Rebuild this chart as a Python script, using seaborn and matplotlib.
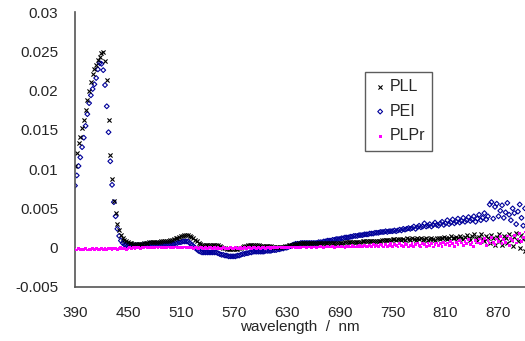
import numpy as np
import pandas as pd
import matplotlib
matplotlib.use("Agg")
import matplotlib.pyplot as plt
import seaborn as sns

# wavelength grid (nm), 2 nm steps
wavelength = list(range(390, 901, 2))

# values in units of 1e-4
PLL = [104,120,133,141,152,162,175,188,200,211,
       221,227,233,239,243,248,249,238,214,163,
       118,88,60,44,30,22,16,12,10,8,
       7,6,6,5,5,5,5,5,5,6,
       6,6,7,7,7,7,7,7,7,8,
       8,8,9,9,10,10,11,12,13,14,
       15,15,16,16,16,15,14,12,10,8,
       6,5,4,3,3,3,4,4,4,4,
       4,3,2,1,0,0,-1,-1,-1,-1,
       -1,-1,-1,0,0,1,2,2,3,3,
       3,3,3,3,3,2,2,2,2,2,
       2,2,1,1,1,1,1,1,1,2,
       2,3,3,4,5,5,5,6,6,6,
       6,6,6,6,6,6,6,6,6,6,
       6,6,6,6,6,6,6,6,6,6,
       6,6,6,7,7,7,7,7,7,7,
       7,7,7,8,8,8,8,8,8,9,
       9,9,9,9,10,10,10,10,10,10,
       11,11,10,11,11,10,11,10,12,11,
       10,12,11,10,12,11,13,10,11,12,
       10,11,13,11,10,12,13,11,12,14,
       12,11,13,15,12,13,14,12,15,13,
       11,14,16,12,10,15,17,12,9,14,
       18,11,8,15,13,6,16,12,4,14,
       17,9,3,15,12,6,18,10,2,14,
       19,8,0,16,11,-4]

PEI = [79,92,104,115,128,140,155,170,184,194,
       202,208,216,227,235,234,226,207,180,147,
       110,80,58,40,24,15,9,6,4,3,
       3,3,3,3,3,3,3,3,3,4,
       4,4,5,5,5,5,5,5,5,5,
       5,5,5,5,5,5,5,6,6,7,
       7,8,8,8,8,6,4,2,0,-2,
       -4,-5,-6,-6,-6,-6,-6,-6,-6,-6,
       -6,-7,-8,-9,-9,-10,-10,-11,-11,-11,
       -11,-11,-10,-10,-9,-8,-8,-7,-7,-6,
       -6,-5,-5,-5,-5,-5,-5,-5,-4,-4,
       -4,-4,-3,-3,-3,-2,-2,-1,-1,0,
       0,1,2,3,4,5,5,5,6,6,
       6,6,6,6,6,6,6,6,7,7,
       7,8,8,9,9,9,10,10,11,11,
       11,12,12,13,13,13,14,14,15,15,
       15,16,16,16,17,17,17,18,18,18,
       19,19,19,20,20,20,21,20,21,21,
       21,22,21,22,23,22,24,23,24,25,
       24,25,27,24,26,28,26,27,31,27,
       28,30,27,29,32,29,28,31,33,29,
       31,35,30,32,36,31,33,37,32,34,
       38,33,35,39,34,36,40,33,37,42,
       35,38,44,36,40,55,58,37,52,56,
       40,47,54,38,45,57,42,35,50,44,
       30,46,55,38,28,50]

PLPr = [-2,-3,-1,-2,-3,-2,-1,-3,-2,-2,
        -1,-2,-1,-3,-2,-1,-2,-1,-2,-1,
        -1,-2,-1,-1,-2,-1,0,-1,-1,-2,
        -1,0,-1,0,-1,0,0,-1,0,0,1,0,0,1,0,0,1,0,1,0,0,1,0,1,0,
        1,0,1,0,0,1,0,1,0,0,0,0,-1,0,0,-1,0,0,-1,0,-1,0,0,-1,0,
        -1,0,-1,-1,0,-1,-1,-1,0,-1,-1,0,-1,-1,0,-1,0,-1,0,0,-1,0,0,-1,0,
        -1,0,0,-1,0,0,-1,0,0,0,0,1,0,0,1,0,0,1,0,1,0,0,1,0,1,
        1,0,1,1,0,1,1,0,1,2,1,0,1,2,1,1,2,0,1,2,1,2,1,0,2,
        2,1,3,2,1,2,3,1,2,3,2,1,3,2,4,1,3,2,4,3,1,4,2,3,5,
        2,4,3,1,5,3,2,5,4,1,3,5,2,4,6,3,1,5,4,2,6,3,5,1,4,
        6,3,5,2,7,4,6,3,8,5,2,7,4,9,6,3,8,5,10,4,7,2,9,6,11,
        5,8,12,3,9,6,13,7,4,11,8,14,5,10,7,15,3,12,9,16,6,11,18,8,13,20]

x_ticks = [390, 450, 510, 570, 630, 690, 750, 810, 870]
y_ticks = [-0.005, 0, 0.005, 0.01, 0.015, 0.02, 0.025, 0.03]
y_labels = ["-0.005", "0", "0.005", "0.01", "0.015", "0.02", "0.025", "0.03"]

scale = 1e-4
df = pd.DataFrame({
    "wl": wavelength,
    "PLL": np.array(PLL) * scale,
    "PEI": np.array(PEI) * scale,
    "PLPr": np.array(PLPr) * scale,
})

sns.set_style("white")
plt.rcParams["font.family"] = ["Liberation Sans", "DejaVu Sans"]

fig = plt.figure(figsize=(5.25, 3.41), dpi=100)
ax = fig.add_axes([75/525, 1-287/341, 1-75/525, (287-12)/341])

sns.scatterplot(data=df, x="wl", y="PLPr", ax=ax, marker="s", s=4,
                color="#ff00ff", edgecolor="none", label="PLPr", zorder=3)
sns.scatterplot(data=df, x="wl", y="PEI", ax=ax, marker="D", s=6,
                facecolor="none", edgecolor="#00009a", linewidth=0.8,
                label="PEI", zorder=2)
sns.scatterplot(data=df, x="wl", y="PLL", ax=ax, marker="x", s=9,
                color="black", linewidth=0.8, label="PLL", zorder=2)

ax.set_xlim(390, 900)
ax.set_ylim(-0.005, 0.03)
ax.set_xticks(x_ticks)
ax.set_xticklabels([str(t) for t in x_ticks])
ax.set_yticks(y_ticks)
ax.set_yticklabels(y_labels)
ax.tick_params(axis="both", direction="in", length=5, width=1.2,
               color="#555555", labelsize=11, pad=12)
ax.tick_params(axis="x", pad=14)
ax.set_xlabel("wavelength  /  nm", fontsize=11, labelpad=0)
ax.set_ylabel("")
for s in ["top", "right"]:
    ax.spines[s].set_visible(False)
for s in ["left", "bottom"]:
    ax.spines[s].set_color("#555555")
    ax.spines[s].set_linewidth(1.2)

handles, labels = ax.get_legend_handles_labels()
order = [labels.index(n) for n in ["PLL", "PEI", "PLPr"]]
leg = ax.legend([handles[i] for i in order], [labels[i] for i in order],
                loc="upper left", bbox_to_anchor=((365-75)/450, 1-(72-12)/275),
                borderaxespad=0, frameon=True, fancybox=False, shadow=False,
                fontsize=11.5, handletextpad=0.1, borderpad=0.45,
                labelspacing=0.6, handlelength=1.0, markerscale=1.0)
leg.get_frame().set_edgecolor("#333333")
leg.get_frame().set_linewidth(1.0)

fig.savefig("out.png", dpi=100)
